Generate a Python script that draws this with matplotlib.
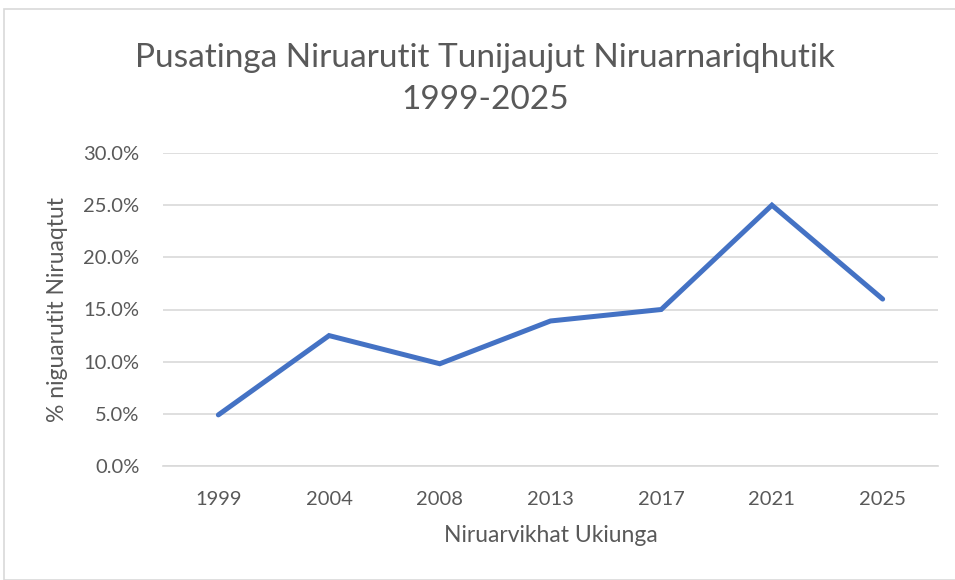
import matplotlib.pyplot as plt
from matplotlib.patches import Rectangle
from matplotlib.ticker import FuncFormatter

# data
years = ["1999", "2004", "2008", "2013", "2017", "2021", "2025"]
pct = [4.9, 12.5, 9.8, 13.9, 15.0, 25.0, 16.0]

title = "Pusatinga Niruarutit Tunijaujut Niruarnariqhutik\n1999-2025"
xlabel = "Niruarvikhat Ukiunga"
ylabel = "% niguarutit Niruaqtut"

text_col = "#595959"
grid_col = "#D9D9D9"
line_col = "#4472C4"

plt.rcParams["font.family"] = ["Lato", "DejaVu Sans"]

W, H = 955, 580
fig = plt.figure(figsize=(W / 100, H / 100), dpi=100)

# chart border (Excel chart area)
fig.patches.append(Rectangle((4 / W, 0), 1, 1 - 9 / H, transform=fig.transFigure,
                             fill=False, edgecolor="#D9D9D9", linewidth=1.2))

ax = fig.add_axes([163 / W, 1 - 466 / H, (938 - 163) / W, (466 - 153) / H])

x = list(range(len(years)))
ax.plot(x, pct, color=line_col, linewidth=3.6, solid_capstyle="round",
        solid_joinstyle="miter", zorder=3)

ax.set_xlim(-0.5, len(years) - 0.5)
ax.set_ylim(0, 30)
ax.set_yticks([0, 5, 10, 15, 20, 25, 30])
ax.yaxis.set_major_formatter(FuncFormatter(lambda v, p: f"{v:.1f}%"))
ax.set_xticks(x)
ax.set_xticklabels(years)

ax.grid(axis="y", color=grid_col, linewidth=1.2)
ax.set_axisbelow(True)
for s in ["top", "right", "left"]:
    ax.spines[s].set_visible(False)
ax.spines["bottom"].set_color(grid_col)
ax.spines["bottom"].set_linewidth(1.2)
ax.tick_params(length=0, labelsize=14.5, labelcolor=text_col)
ax.tick_params(axis="y", pad=17)
ax.tick_params(axis="x", pad=18)

ax.set_xlabel(xlabel, fontsize=16.5, color=text_col, labelpad=12)
ax.set_ylabel(ylabel, fontsize=16.5, color=text_col, labelpad=11)

fig.text(485 / W, 1 - 79 / H, title, ha="center", va="center",
         fontsize=24, color=text_col, linespacing=1.5)

fig.savefig("out.png", dpi=100, facecolor="white")
